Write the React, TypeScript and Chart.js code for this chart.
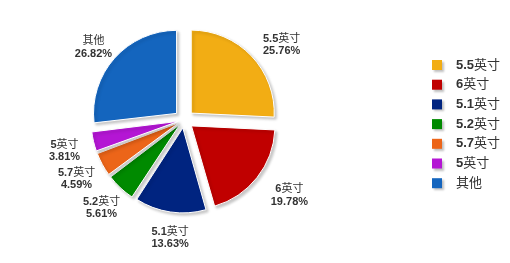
import { useEffect, useRef } from "react";
import { Chart, ArcElement, PieController } from "chart.js";

Chart.register(ArcElement, PieController);

// Screen-size share by category
const categories = ["5.5英寸", "6英寸", "5.1英寸", "5.2英寸", "5.7英寸", "5英寸", "其他"];
const shares = [25.76, 19.78, 13.63, 5.61, 4.59, 3.81, 26.82];
const sliceColors = ["#F2AD14", "#C00000", "#002480", "#008A00", "#EC6519", "#B416D4", "#1465BE"];

const FAMILY = '"Liberation Sans", Arial, "Noto Sans CJK SC", sans-serif';
const TEXT_COLOR = "#333333";
const SLICE_OFFSET = 10; // px every slice is pulled out from the centre
const PIE_RADIUS = 83;
const total = shares.reduce((a, b) => a + b, 0);

// Chart.js moves an arc by offset/4 * (2 - sin(circumference)); invert that so
// every slice is pulled out by the same distance.
function sliceOffset(index: number) {
  const circ = (shares[index] / total) * Math.PI * 2;
  const fix = 1 - Math.sin(Math.min(Math.PI, circ));
  return (4 * SLICE_OFFSET) / (1 + fix);
}

// Draws text with Latin runs in bold and CJK runs in regular weight
function drawMixed(ctx: CanvasRenderingContext2D, text: string, x: number, y: number, size: number, align: "left" | "center") {
  const runs: { t: string; cjk: boolean }[] = [];
  for (const ch of text) {
    const cjk = /[\u3000-\u9fff]/.test(ch);
    const last = runs[runs.length - 1];
    if (last && last.cjk === cjk) last.t += ch;
    else runs.push({ t: ch, cjk });
  }
  const fontOf = (r: { cjk: boolean }) => `${r.cjk ? "normal" : "bold"} ${size}px ${FAMILY}`;
  let width = 0;
  const widths = runs.map((r) => {
    ctx.font = fontOf(r);
    const w = ctx.measureText(r.t).width;
    width += w;
    return w;
  });
  let cx = align === "center" ? x - width / 2 : x;
  ctx.textAlign = "left";
  ctx.textBaseline = "middle";
  runs.forEach((r, i) => {
    ctx.font = fontOf(r);
    ctx.fillText(r.t, cx, y);
    cx += widths[i];
  });
  return width;
}

const piePlugin = {
  id: "pieDecor",
  beforeDatasetsDraw(chart: Chart) {
    const c = chart.ctx;
    c.save();
    c.shadowColor = "rgba(0,0,0,0.22)";
    c.shadowBlur = 3;
    c.shadowOffsetX = 2;
    c.shadowOffsetY = 2;
  },
  afterDatasetsDraw(chart: Chart) {
    const c = chart.ctx;
    c.restore();

    // slice labels: name + percentage, laid out on an ellipse around the pie
    const meta = chart.getDatasetMeta(0);
    c.save();
    c.fillStyle = TEXT_COLOR;
    meta.data.forEach((arc: any, i: number) => {
      const p = arc.getProps(["x", "y", "startAngle", "endAngle", "outerRadius"], true);
      const mid = (p.startAngle + p.endAngle) / 2;
      const rx = p.outerRadius + SLICE_OFFSET + 35;
      const ry = p.outerRadius + SLICE_OFFSET + 22;
      const lx = p.x + 5 + Math.cos(mid) * rx;
      const ly = p.y + 4 + Math.sin(mid) * ry;
      drawMixed(c, categories[i], lx, ly - 6, 11, "center");
      drawMixed(c, shares[i].toFixed(2) + "%", lx, ly + 6.5, 11, "center");
    });
    c.restore();
  },
  afterDraw(chart: Chart) {
    // legend on the right
    const c = chart.ctx;
    c.save();
    categories.forEach((name, i) => {
      const y = 65 + i * 19.7;
      c.save();
      c.shadowColor = "rgba(0,0,0,0.25)";
      c.shadowBlur = 2;
      c.shadowOffsetX = 2;
      c.shadowOffsetY = 2;
      c.fillStyle = sliceColors[i];
      c.fillRect(432, y - 5, 10, 10);
      c.restore();
      c.fillStyle = TEXT_COLOR;
      drawMixed(c, name, 456, y, 13, "left");
    });
    c.restore();
  },
};

export default function App() {
  const ref = useRef<HTMLCanvasElement | null>(null);

  useEffect(() => {
    if (!ref.current) return;
    const chart = new Chart(ref.current, {
      type: "pie",
      data: {
        labels: categories,
        datasets: [
          {
            data: shares,
            backgroundColor: sliceColors,
            borderColor: "#ffffff",
            borderWidth: 1,
            offset: (ctx: any) => sliceOffset(ctx.dataIndex),
          },
        ],
      },
      options: {
        responsive: false,
        animation: false,
        radius: PIE_RADIUS,
        layout: { padding: { left: 0, right: 142, top: 0, bottom: 23 } },
        plugins: {
          legend: { display: false },
          tooltip: { enabled: false },
        },
      } as any,
      plugins: [piePlugin as any],
    });
    return () => chart.destroy();
  }, []);

  return (
    <div style={{ position: "absolute", left: 0, top: 0, width: 510, height: 263, background: "#ffffff" }}>
      <canvas ref={ref} width={510} height={263} />
    </div>
  );
}
